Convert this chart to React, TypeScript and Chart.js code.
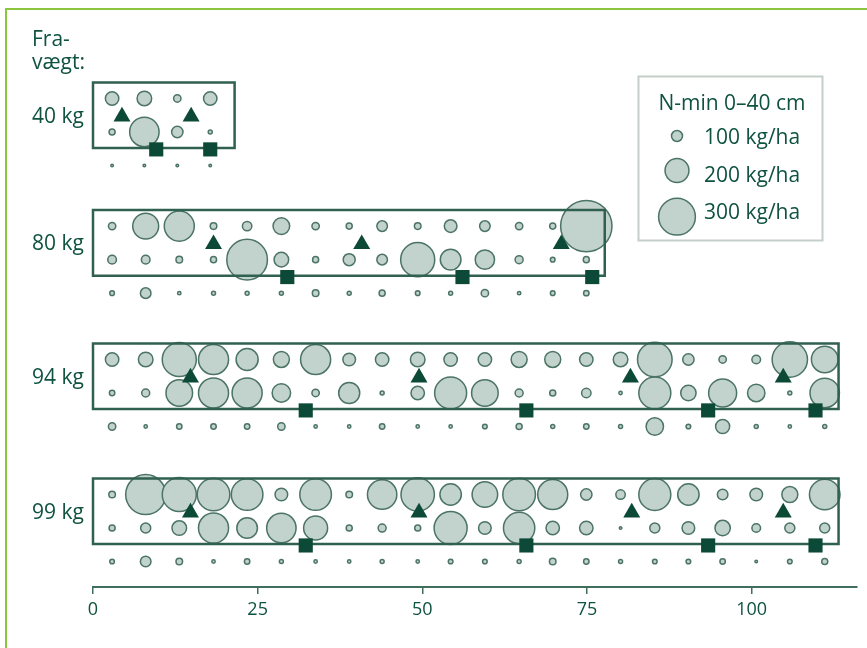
import React, { useEffect, useRef } from "react";
import { Chart, registerables } from "chart.js";
Chart.register(...registerables);

// ---------- data ----------
const groupLabels = ["40 kg", "80 kg", "94 kg", "99 kg"];
const xTicks = [0, 25, 50, 75, 100];

// plot positions (x axis units)
const plots40 = [2.9, 7.8, 12.8, 17.8];
const plots = [2.9, 8.0, 13.1, 18.3, 23.4, 28.6, 33.8, 38.9, 43.9, 49.3, 54.3, 59.5, 64.7, 69.8, 74.9, 80.1, 85.3, 90.4, 95.6, 100.7, 105.8, 111.1];

// N-min 0-40 cm (kg/ha), three rows per group
const nmin40Top = [119, 128, 72, 119];
const nmin40Mid = [62, 243, 103, 46];
const nmin40Bot = [35, 35, 35, 35];
const nmin80Top = [72, 216, 248, 66, 88, 144, 72, 62, 97, 66, 113, 97, 72, 62, 413];
const nmin80Mid = [82, 82, 66, 62, 330, 128, 62, 108, 97, 279, 175, 165, 77, 51, 62];
const nmin80Bot = [51, 97, 41, 46, 46, 46, 66, 46, 62, 51, 46, 72, 41, 51, 57];
const nmin94Top = [119, 128, 279, 248, 186, 139, 248, 113, 119, 128, 119, 119, 139, 139, 119, 128, 283, 103, 72, 82, 289, 221];
const nmin94Mid = [57, 77, 221, 248, 248, 158, 72, 178, 46, 119, 263, 221, 77, 62, 88, 41, 263, 134, 232, 150, 46, 243];
const nmin94Bot = [72, 41, 57, 57, 57, 72, 41, 41, 57, 41, 41, 51, 62, 46, 57, 46, 150, 51, 124, 46, 41, 46];
const nmin99Top = [66, 325, 279, 268, 260, 113, 260, 66, 243, 274, 181, 213, 268, 248, 103, 88, 263, 181, 97, 113, 139, 252];
const nmin99Mid = [62, 93, 128, 248, 175, 243, 201, 62, 77, 62, 271, 113, 258, 119, 119, 35, 93, 113, 134, 82, 93, 93];
const nmin99Bot = [51, 97, 66, 41, 57, 46, 41, 41, 46, 41, 51, 51, 46, 66, 57, 46, 51, 51, 57, 35, 51, 62];

// triangle and square marker positions (x axis units)
const tri40 = [4.4, 14.9];
const tri80 = [18.3, 40.8, 71.1];
const tri94 = [14.8, 49.5, 81.6, 104.8];
const tri99 = [14.8, 49.5, 81.8, 104.8];
const sq40 = [9.6, 17.8];
const sq80 = [29.5, 56.1, 75.8];
const sq94 = [32.3, 65.8, 93.4, 109.7];
const sq99 = [32.3, 65.8, 93.4, 109.7];

// frame (field) extent per group
const frameEnd = [21.5, 77.7, 113.2, 113.2];

// legend
const legendTitle = "N-min 0–40 cm";
const legendValues = [100, 200, 300];
const legendLabels = ["100 kg/ha", "200 kg/ha", "300 kg/ha"];

// ---------- layout / style ----------
const GROUP_Y = [2.64, 6.45, 10.43, 14.46];
const TEXT = "#0f5240";
const FILL = "#c2d2cc";
const STROKE = "#4b7464";
const DARK = "#0c4a37";
const FRAME = "#30604f";
const AXIS = "#3f6e5d";
const FONT = '"Open Sans", "Noto Sans", sans-serif';

const radiusOf = (v: number) => Math.max(1.2, (v - 15) / 15.5);

const groups = [
  { label: groupLabels[0], x: plots40, rows: [nmin40Top, nmin40Mid, nmin40Bot], tri: tri40, sq: sq40, end: frameEnd[0], y: GROUP_Y[0] },
  { label: groupLabels[1], x: plots.slice(0, nmin80Top.length), rows: [nmin80Top, nmin80Mid, nmin80Bot], tri: tri80, sq: sq80, end: frameEnd[1], y: GROUP_Y[1] },
  { label: groupLabels[2], x: plots, rows: [nmin94Top, nmin94Mid, nmin94Bot], tri: tri94, sq: sq94, end: frameEnd[2], y: GROUP_Y[2] },
  { label: groupLabels[3], x: plots, rows: [nmin99Top, nmin99Mid, nmin99Bot], tri: tri99, sq: sq99, end: frameEnd[3], y: GROUP_Y[3] },
];

function buildDatasets() {
  const ds: any[] = [];
  groups.forEach((g) => {
    g.rows.forEach((row, ri) => {
      ds.push({
        type: "scatter",
        data: row.map((v, i) => ({ x: g.x[i], y: g.y + ri, v })),
        pointRadius: (c: any) => radiusOf(c.raw ? c.raw.v : 0),
        pointBackgroundColor: FILL,
        pointBorderColor: STROKE,
        pointBorderWidth: 1.5,
        order: 3,
        clip: false,
      });
    });
    const top = g.y - 0.48;
    const bot = g.y + 1.48;
    ds.push({
      type: "scatter",
      showLine: true,
      data: [
        { x: 0, y: top },
        { x: g.end, y: top },
        { x: g.end, y: bot },
        { x: 0, y: bot },
        { x: 0, y: top },
      ],
      pointRadius: 0,
      borderColor: FRAME,
      borderWidth: 2.5,
      borderCapStyle: "square",
      borderJoinStyle: "miter",
      tension: 0,
      fill: false,
      order: 2,
      clip: false,
    });
    ds.push({
      type: "scatter",
      data: g.tri.map((x) => ({ x, y: g.y + 0.54 })),
      pointStyle: "triangle",
      pointRadius: 9.8,
      pointBackgroundColor: DARK,
      pointBorderColor: DARK,
      pointBorderWidth: 0,
      order: 1,
      clip: false,
    });
    ds.push({
      type: "scatter",
      data: g.sq.map((x) => ({ x, y: g.y + 1.52 })),
      pointStyle: "rect",
      pointRadius: 10,
      pointBackgroundColor: DARK,
      pointBorderColor: DARK,
      pointBorderWidth: 0,
      order: 1,
      clip: false,
    });
  });
  return ds;
}

const textPlugin = {
  id: "texts",
  afterDraw(chart: any) {
    const { ctx } = chart;
    const ys = chart.scales.y;
    ctx.save();
    ctx.fillStyle = TEXT;
    ctx.font = `21px ${FONT}`;
    ctx.textAlign = "left";
    ctx.textBaseline = "alphabetic";
    ctx.fillText("Fra-", 32, 46);
    ctx.fillText("vægt:", 32, 69);
    groups.forEach((g) => {
      ctx.fillText(g.label, 32, ys.getPixelForValue(g.y + 0.5) + 7.5);
    });
    // legend
    ctx.strokeStyle = "#c5cfca";
    ctx.lineWidth = 2;
    ctx.strokeRect(638.5, 76.5, 184, 164);
    ctx.textAlign = "center";
    ctx.fillText(legendTitle, 732, 109.5);
    const cy = [136, 170.5, 216.7];
    const by = [144, 182, 219.3];
    legendValues.forEach((v, i) => {
      ctx.beginPath();
      ctx.arc(677, cy[i], radiusOf(v), 0, Math.PI * 2);
      ctx.fillStyle = FILL;
      ctx.fill();
      ctx.lineWidth = 1.5;
      ctx.strokeStyle = STROKE;
      ctx.stroke();
      ctx.fillStyle = TEXT;
      ctx.textAlign = "left";
      ctx.fillText(legendLabels[i], 704, by[i]);
    });
    ctx.restore();
  },
};

export default function App() {
  const ref = useRef<HTMLCanvasElement>(null);
  useEffect(() => {
    let chart: Chart | null = null;
    let dead = false;
    const make = () => {
      if (dead || !ref.current) return;
      chart = new Chart(ref.current, {
        type: "scatter",
        data: { datasets: buildDatasets() },
        options: {
          animation: false,
          responsive: true,
          maintainAspectRatio: false,
          events: [],
          layout: { autoPadding: false, padding: { left: 93, right: 10, top: 10, bottom: 0 } },
          plugins: { legend: { display: false }, tooltip: { enabled: false } },
          scales: {
            x: {
              type: "linear",
              position: "bottom",
              min: 0,
              max: 116,
              grid: { display: true, drawOnChartArea: false, drawTicks: true, tickLength: 7, color: AXIS, lineWidth: 1.5 },
              border: { display: true, color: AXIS, width: 2 },
              afterBuildTicks: (s: any) => {
                s.ticks = xTicks.map((value) => ({ value }));
              },
              ticks: {
                includeBounds: false,
                color: TEXT,
                padding: 5,
                font: { family: FONT, size: 18 },
              },
              afterFit: (s: any) => {
                s.height = 61;
              },
            },
            y: { type: "linear", display: false, min: 0, max: 17.22, reverse: true },
          },
        } as any,
        plugins: [textPlugin],
      });
    };
    const fonts: any = (document as any).fonts;
    if (fonts && fonts.load) {
      Promise.all([fonts.load(`21px "Open Sans"`), fonts.load(`18px "Open Sans"`)]).then(make, make);
    } else make();
    return () => {
      dead = true;
      if (chart) chart.destroy();
    };
  }, []);
  return (
    <div style={{ position: "fixed", left: 0, top: 0, width: 867, height: 648, overflow: "hidden", background: "#fff" }}>
      <div style={{ position: "absolute", left: 5, top: 8, width: 2000, height: 2000, borderTop: "2px solid #8cc63e", borderLeft: "2px solid #8cc63e" }} />
      <div style={{ position: "absolute", left: 0, top: 0, width: 867, height: 648 }}>
        <canvas ref={ref} />
      </div>
    </div>
  );
}
